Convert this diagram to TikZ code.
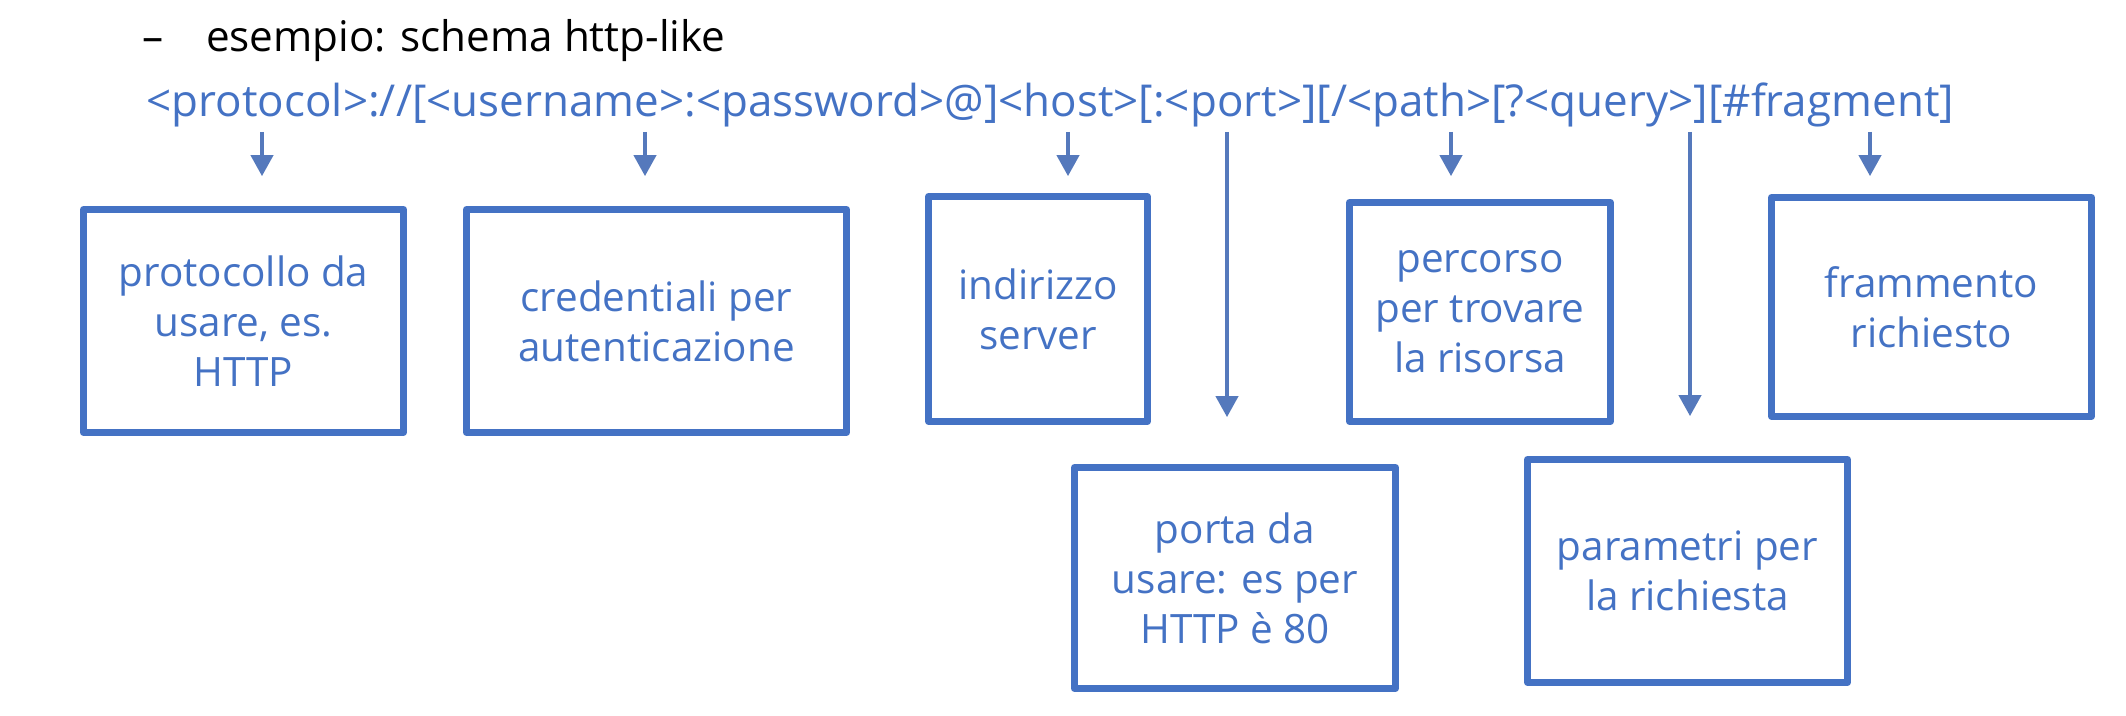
\documentclass[tikz,border=0pt]{standalone}
\usepackage{fontspec}
\setmainfont{Open Sans}
\usetikzlibrary{arrows.meta,positioning,calc}
\definecolor{urlblue}{HTML}{4472C4}
\definecolor{arrblue}{HTML}{5579BC}

\begin{document}
\begin{tikzpicture}[x=0.01cm, y=-0.01cm,
    every node/.style={font=\fontsize{11.5pt}{14.2pt}\selectfont, text=urlblue},
    box/.style={draw=urlblue, line width=1.85pt, line join=round, align=center, inner sep=0pt},
    arr/.style={-{Triangle[width=0.22cm, length=0.21cm]}, draw=arrblue, line width=1.15pt},
  ]
  \useasboundingbox (0,0) rectangle (2126,716);

  % heading and the scheme line
  \node[anchor=base west, inner sep=0pt, text=black, font=\fontsize{12pt}{14pt}\selectfont] (title) at (142,52)
    {–\hspace{1.0em}esempio: schema http-like};
  \node[anchor=base west, inner sep=0pt, font=\fontsize{12.5pt}{14pt}\selectfont] (url) at (146,117)
    {<protocol>://[<username>:<password>@]<host>[:<port>][/<path>[?<query>][\#fragment]};

  % one box for each part of the scheme
  \node[box, minimum width=3.20cm, minimum height=2.23cm] (proto) at (243.5,321) {protocollo da\\usare, es.\\HTTP};
  \node[box, minimum width=3.80cm, minimum height=2.23cm] (cred)  at (656.5,321) {credentiali per\\autenticazione};
  \node[box, minimum width=2.19cm, minimum height=2.25cm] (host)  at (1038,309)  {indirizzo\\server};
  \node[box, minimum width=2.61cm, minimum height=2.19cm] (path)  at (1480,312)  {percorso\\per trovare\\la risorsa};
  \node[box, minimum width=3.20cm, minimum height=2.19cm] (frag)  at (1931.5,307) {frammento\\richiesto};
  \node[box, minimum width=3.21cm, minimum height=2.21cm] (port)  at (1235,578)  {porta da\\usare: es per\\HTTP è 80};
  \node[box, minimum width=3.20cm, minimum height=2.23cm] (query) at (1687.5,571) {parametri per\\la richiesta};

  % arrows from the scheme down to the boxes
  \foreach \n/\x/\g in {proto/262/0.30, cred/645/0.30, host/1068/0.17, port/1227/0.47,
                        path/1451/0.23, query/1690/0.40, frag/1870/0.18} {
    \coordinate (s-\n) at (\x,132);
    \draw[arr, shorten >=\g cm] (s-\n) -- (s-\n |- \n.north);
  }
\end{tikzpicture}
\end{document}
